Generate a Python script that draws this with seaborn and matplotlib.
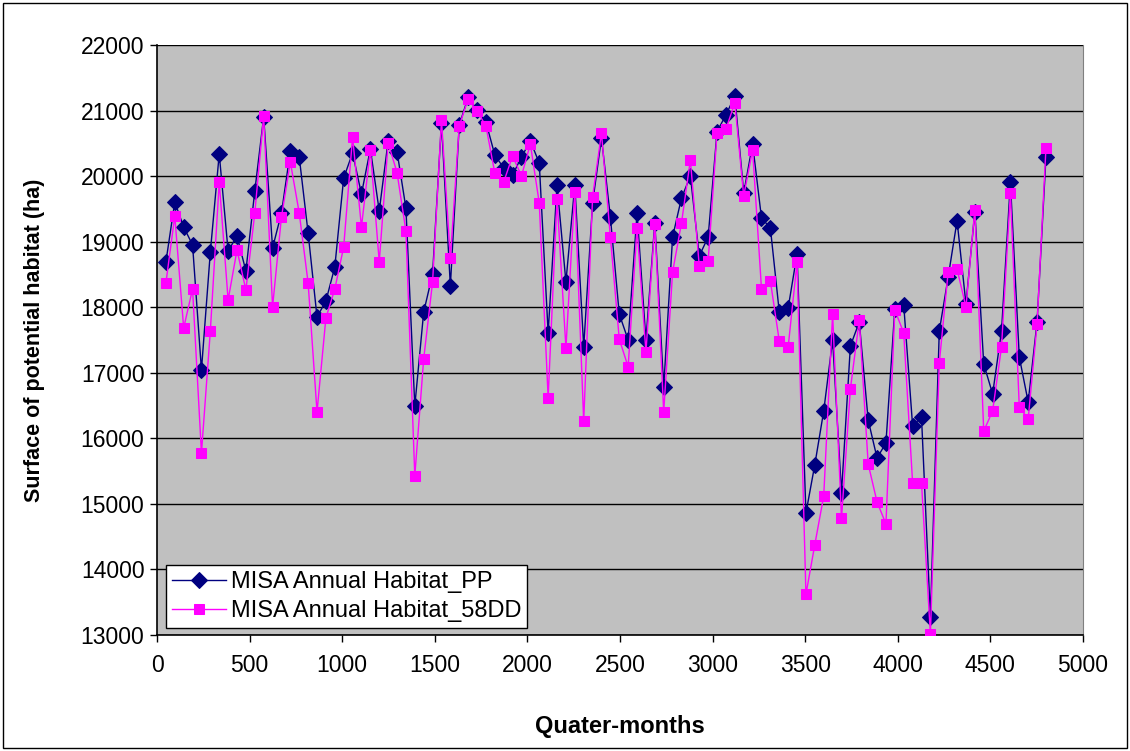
import numpy as np
import pandas as pd
import seaborn as sns
import matplotlib.pyplot as plt
from matplotlib.patches import Rectangle

# quarter-month index (every 48)
quarter = [48 * k for k in range(1, 101)]

habitat_pp = [18690, 19605, 19224, 18950, 17043, 18843, 20338, 18858, 19087, 18553,
              19773, 20902, 18904, 19437, 20383, 20292, 19132, 17851, 18095, 18614,
              19971, 20353, 19727, 20414, 19468, 20536, 20375, 19514, 16494, 17927,
              18506, 20810, 18324, 20780, 21200, 21009, 20826, 20322, 20124, 20017,
              20292, 20536, 20200, 17607, 19865, 18385, 19865, 17393, 19590, 20582,
              19376, 17897, 17500, 19437, 17500, 19290, 16783, 19072, 19666, 20002,
              18781, 19072, 20680, 20933, 21222, 19743, 20490, 19361, 19209, 17927,
              17988, 18812, 14860, 15600, 16417, 17500, 15170, 17409, 17775, 16280,
              15700, 15929, 17980, 18034, 16188, 16326, 13275, 17637, 18460, 19320,
              18050, 19460, 17134, 16677, 17637, 19910, 17241, 16555, 17775, 20292]

habitat_58dd = [18370, 19392, 17683, 18278, 15777, 17638, 19910, 18110, 18873, 18263,
                19437, 20917, 18004, 19376, 20215, 19437, 18370, 16402, 17836, 18278,
                18919, 20597, 19224, 20400, 18690, 20505, 20055, 19163, 15426, 17211,
                18385, 20856, 18751, 20765, 21176, 20993, 20765, 20048, 19910, 20307,
                20002, 20490, 19590, 16620, 19651, 17378, 19758, 16260, 19682, 20658,
                19072, 17515, 17090, 19209, 17317, 19270, 16402, 18537, 19285, 20246,
                18629, 18705, 20658, 20719, 21115, 19697, 20398, 18278, 18400, 17485,
                17393, 18690, 13620, 14380, 15120, 17897, 14780, 16753, 17805, 15609,
                15029, 14694, 17958, 17607, 15319, 15319, 13015, 17149, 18540, 18580,
                18003, 19490, 16112, 16417, 17393, 19743, 16478, 16295, 17744, 20430]

plt.rcParams['font.family'] = ['Liberation Sans', 'DejaVu Sans']

fig = plt.figure(figsize=(11.3, 7.51), dpi=100)
ax = fig.add_axes([157 / 1130, 1 - 635 / 751, 926 / 1130, 590 / 751])
ax.set_facecolor('#C0C0C0')

# outer chart border
fig.patches.append(Rectangle((3 / 1130, 3 / 751), 1124 / 1130, 745 / 751,
                             transform=fig.transFigure, fill=False,
                             edgecolor='black', linewidth=1))

sns.lineplot(x=quarter, y=habitat_pp, ax=ax, color='#000080', marker='D',
             markersize=8, markeredgecolor='#000080', linewidth=1,
             label='MISA Annual Habitat_PP', zorder=3)
sns.lineplot(x=quarter, y=habitat_58dd, ax=ax, color='#FF00FF', marker='s',
             markersize=7, markeredgecolor='#FF00FF', linewidth=1,
             label='MISA Annual Habitat_58DD', zorder=4)

ax.set_xlim(0, 5000)
ax.set_ylim(13000, 22000)
ax.set_xticks(np.arange(0, 5001, 500))
ax.set_yticks(np.arange(13000, 22001, 1000))
ax.yaxis.grid(True, color='black', linewidth=1.0)
ax.set_axisbelow(True)
ax.tick_params(axis='both', direction='out', length=5, width=1, labelsize=16.5,
               color='black')
ax.tick_params(axis='x', pad=9)
ax.tick_params(axis='y', pad=4)

ax.spines['top'].set_visible(False)
ax.spines['right'].set_color('#808080')
ax.spines['left'].set_linewidth(1.2)
ax.spines['bottom'].set_linewidth(1.2)

ax.set_xlabel('Quater-months', fontsize=17, fontweight='bold')
ax.set_ylabel('Surface of potential habitat (ha)', fontsize=15.5, fontweight='bold')
ax.xaxis.set_label_coords(0.5, -0.136)
ax.yaxis.set_label_coords(-0.121, 0.5)

leg = ax.legend(loc='lower left', bbox_to_anchor=(0.0097, 0.012), borderaxespad=0,
                fancybox=False, edgecolor='black', framealpha=1, fontsize=17,
                handlelength=2.3, handletextpad=0.2, borderpad=0.25,
                labelspacing=0.3)
leg.get_frame().set_linewidth(1)

fig.savefig('out.png', dpi=100)
